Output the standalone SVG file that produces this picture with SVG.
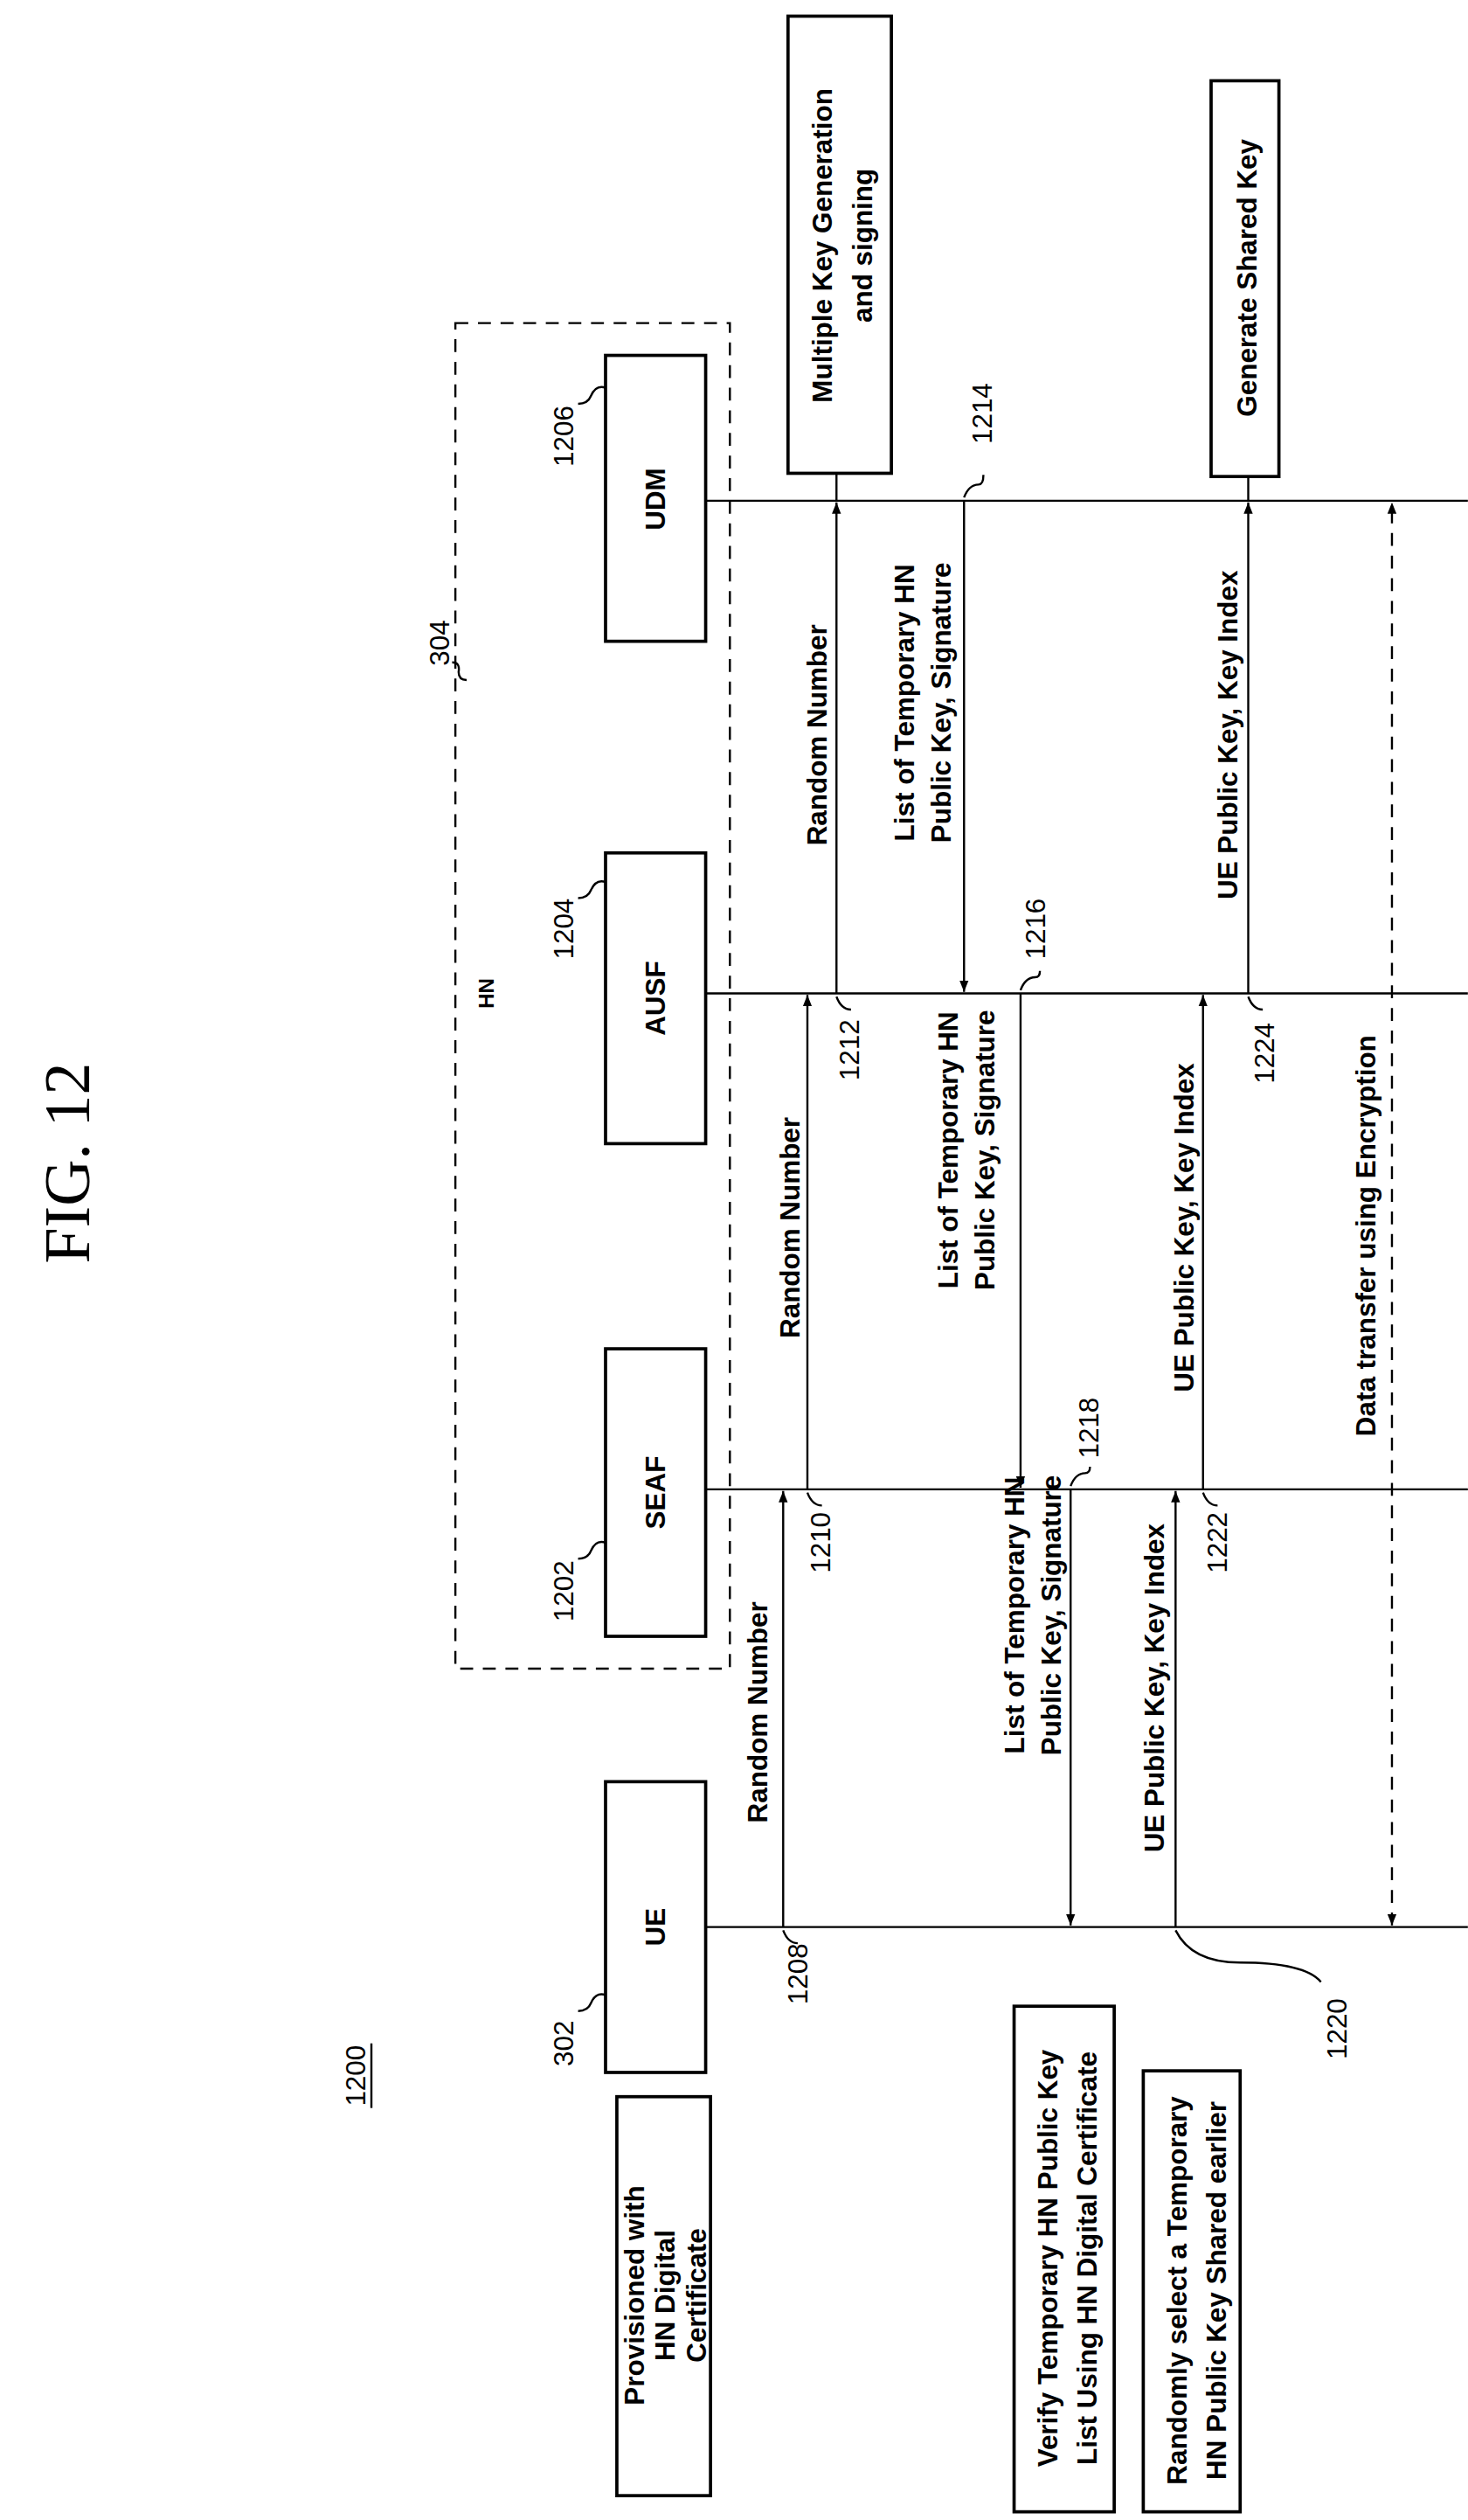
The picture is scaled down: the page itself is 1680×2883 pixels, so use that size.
<svg xmlns="http://www.w3.org/2000/svg" width="1680" height="2883" viewBox="0 0 1680 2883">
<defs>
<marker id="ah" viewBox="0 0 10 10" refX="10" refY="5" markerWidth="7" markerHeight="7" orient="auto-start-reverse" markerUnits="userSpaceOnUse"><path d="M0,1 L10,5 L0,9 Z" fill="#000"/></marker>
<style>
.b{fill:#fff;stroke:#000;stroke-width:2}
.l{stroke:#000;stroke-width:1.3;fill:none}
.d{stroke:#000;stroke-width:1.3;fill:none;stroke-dasharray:8,6}
.t{font-family:"Liberation Sans",Arial,sans-serif;font-weight:bold;font-size:17px;text-anchor:middle;fill:#000}
.n{font-family:"Liberation Sans",Arial,sans-serif;font-size:17px;text-anchor:middle;fill:#000}
</style>
</defs>
<rect width="1680" height="2883" fill="#fff"/>
<g transform="scale(1.848)">
<text transform="translate(55,720) rotate(-90)" style="font-family:'Liberation Serif',serif;font-size:40px;text-anchor:middle">FIG. 12</text>
<g id="label1200"><text class="n" transform="translate(226,1285) rotate(-90)">1200</text><line x1="230" y1="1265" x2="230" y2="1305" class="l"/></g>
<g id="hn"><rect x="282" y="200" width="170" height="833" class="d" stroke-dasharray="10,7"/><text class="t" transform="translate(306,615) rotate(-90)" style="font-size:13px">HN</text><text class="n" transform="translate(278,398) rotate(-90)">304</text><path d="M280,410 q5,0 4,6 q0,5 5,5" class="l"/></g>
<g id="udm"><rect x="375" y="220" width="62" height="177" class="b"/><text class="t" transform="translate(412,309) rotate(-90)">UDM</text><text class="n" transform="translate(355,270) rotate(-90)">1206</text><path d="M358,250 q6,0 8,-5 q3,-7 9,-5" class="l"/></g>
<g id="ausf"><rect x="375" y="528" width="62" height="180" class="b"/><text class="t" transform="translate(412,618) rotate(-90)">AUSF</text><text class="n" transform="translate(355,575) rotate(-90)">1204</text><path d="M358,556 q6,0 8,-5 q3,-7 9,-5" class="l"/></g>
<g id="seaf"><rect x="375" y="835" width="62" height="178" class="b"/><text class="t" transform="translate(412,924) rotate(-90)">SEAF</text><text class="n" transform="translate(355,985) rotate(-90)">1202</text><path d="M358,965 q6,0 8,-5 q3,-7 9,-5" class="l"/></g>
<g id="ue"><rect x="375" y="1103" width="62" height="180" class="b"/><text class="t" transform="translate(412,1193) rotate(-90)">UE</text><text class="n" transform="translate(355,1265) rotate(-90)">302</text><path d="M358,1245 q6,0 8,-5 q3,-7 9,-5" class="l"/></g>
<g id="note-provisioned"><rect x="382" y="1298" width="58" height="247" class="b"/><text class="t" transform="translate(399,1421) rotate(-90)">Provisioned with<tspan x="0" dy="19">HN Digital</tspan><tspan x="0" dy="19">Certificate</tspan></text></g>
<g id="note-verify"><rect x="628" y="1242" width="62" height="313" class="b"/><text class="t" transform="translate(655,1398) rotate(-90)">Verify Temporary HN Public Key<tspan x="0" dy="24">List Using HN Digital Certificate</tspan></text></g>
<g id="note-randomly"><rect x="708" y="1282" width="60" height="273" class="b"/><text class="t" transform="translate(735,1418) rotate(-90)">Randomly select a Temporary<tspan x="0" dy="24">HN Public Key Shared earlier</tspan></text></g>
<g id="note-multiple"><rect x="488" y="10" width="64" height="283" class="b"/><text class="t" transform="translate(515,152) rotate(-90)">Multiple Key Generation<tspan x="0" dy="25">and signing</tspan></text></g>
<g id="note-generate"><rect x="750" y="50" width="42" height="245" class="b"/><text class="t" transform="translate(778,172) rotate(-90)">Generate Shared Key</text></g>
<g id="connectors">
<line x1="437" y1="310" x2="909" y2="310" class="l"/>
<line x1="437" y1="615" x2="909" y2="615" class="l"/>
<line x1="437" y1="922" x2="909" y2="922" class="l"/>
<line x1="437" y1="1193" x2="909" y2="1193" class="l"/>
<line x1="485" y1="1193" x2="485" y2="923" class="l" marker-end="url(#ah)"/>
<line x1="500" y1="922" x2="500" y2="616" class="l" marker-end="url(#ah)"/>
<line x1="518" y1="615" x2="518" y2="311" class="l" marker-end="url(#ah)"/>
<line x1="597" y1="310" x2="597" y2="614" class="l" marker-end="url(#ah)"/>
<line x1="632" y1="615" x2="632" y2="921" class="l" marker-end="url(#ah)"/>
<line x1="663" y1="922" x2="663" y2="1192" class="l" marker-end="url(#ah)"/>
<line x1="728" y1="1193" x2="728" y2="923" class="l" marker-end="url(#ah)"/>
<line x1="745" y1="922" x2="745" y2="616" class="l" marker-end="url(#ah)"/>
<line x1="773" y1="615" x2="773" y2="311" class="l" marker-end="url(#ah)"/>
<line x1="862" y1="1192" x2="862" y2="311" class="d" marker-start="url(#ah)" marker-end="url(#ah)"/>
<line x1="773" y1="310" x2="773" y2="295" class="l"/>
<line x1="518" y1="310" x2="518" y2="293" class="l"/>
<path d="M485,1195 q3,8 9,8" class="l"/><text class="n" transform="translate(500,1222) rotate(-90)">1208</text>
<path d="M500,924 q3,8 9,8" class="l"/><text class="n" transform="translate(514,955) rotate(-90)">1210</text>
<path d="M518,617 q3,8 9,8" class="l"/><text class="n" transform="translate(532,650) rotate(-90)">1212</text>
<path d="M597,308 q3,-8 9,-8 q3,0 3,-6" class="l"/><text class="n" transform="translate(614,256) rotate(-90)">1214</text>
<path d="M632,613 q3,-8 9,-8 q3,0 3,-4" class="l"/><text class="n" transform="translate(647,575) rotate(-90)">1216</text>
<path d="M663,920 q3,-8 9,-8 q3,0 3,-4" class="l"/><text class="n" transform="translate(680,884) rotate(-90)">1218</text>
<path d="M728,1195 q10,20 40,20 q40,0 50,12" class="l"/><text class="n" transform="translate(834,1256) rotate(-90)">1220</text>
<path d="M745,924 q3,8 9,8" class="l"/><text class="n" transform="translate(760,955) rotate(-90)">1222</text>
<path d="M773,617 q3,8 9,8" class="l"/><text class="n" transform="translate(789,652) rotate(-90)">1224</text>
<text class="t" transform="translate(475,1060) rotate(-90)">Random Number</text>
<text class="t" transform="translate(495,760) rotate(-90)">Random Number</text>
<text class="t" transform="translate(512,455) rotate(-90)">Random Number</text>
<text class="t" transform="translate(634,1000) rotate(-90)">List of Temporary HN<tspan x="0" dy="23">Public Key, Signature</tspan></text>
<text class="t" transform="translate(593,712) rotate(-90)">List of Temporary HN<tspan x="0" dy="23">Public Key, Signature</tspan></text>
<text class="t" transform="translate(566,435) rotate(-90)">List of Temporary HN<tspan x="0" dy="23">Public Key, Signature</tspan></text>
<text class="t" transform="translate(721,1045) rotate(-90)">UE Public Key, Key Index</text>
<text class="t" transform="translate(739,760) rotate(-90)">UE Public Key, Key Index</text>
<text class="t" transform="translate(766,455) rotate(-90)">UE Public Key, Key Index</text>
<text class="t" transform="translate(852,765) rotate(-90)">Data transfer using Encryption</text>
</g>
</g>
</svg>
